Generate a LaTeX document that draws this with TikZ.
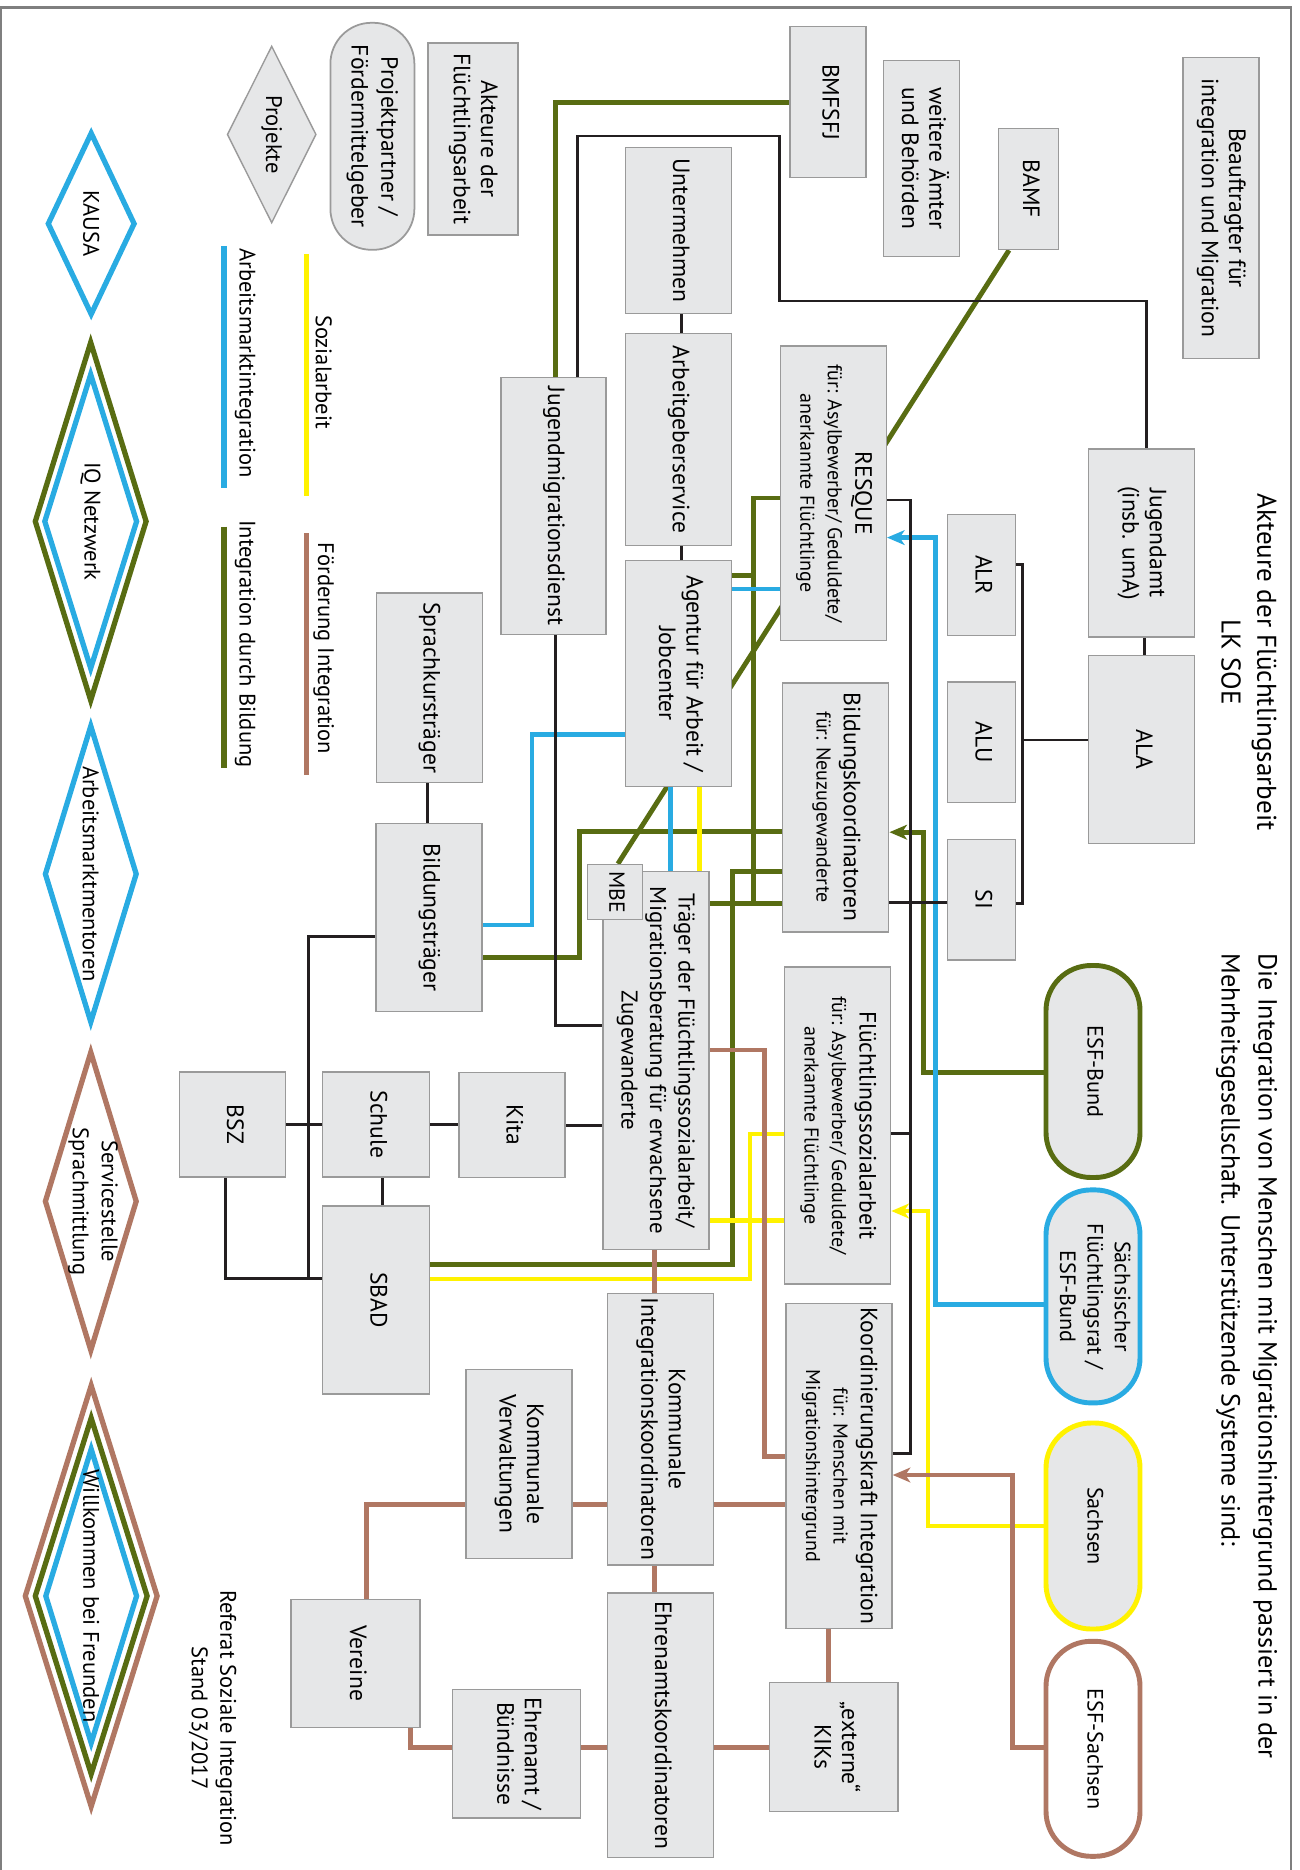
\documentclass[tikz,border=0pt]{standalone}
\usepackage{graphicx}
\usepackage{fontspec}
\setmainfont{PT Sans}
\usetikzlibrary{shapes.geometric,arrows.meta,backgrounds}
\definecolor{boxfill}{HTML}{E6E7E8}
\definecolor{boxline}{HTML}{9A9A9A}
\definecolor{framegray}{HTML}{7F7F7F}
\definecolor{lgreen}{HTML}{586C12}
\definecolor{lblue}{HTML}{29ABE2}
\definecolor{lyellow}{HTML}{FFF200}
\definecolor{lbrown}{HTML}{B07763}
\definecolor{lblack}{HTML}{231F20}
\newcommand{\vt}[1]{\rotatebox{-90}{\begin{tabular}{@{}c@{}}#1\end{tabular}}}
\newcommand{\subf}{\fontsize{5.7}{7.7}\selectfont}
\begin{document}
\begin{tikzpicture}[x=0.01cm, y=-0.01cm,
    sz/.style 2 args={minimum width=#1*0.01cm, minimum height=#2*0.01cm},
    box/.style={rectangle, draw=boxline, fill=boxfill, line width=0.4pt, inner sep=0pt, font=\fontsize{6.7}{7.8}\selectfont},
    capsule/.style={box, rounded corners=0.45cm, line width=1.4pt, font=\fontsize{6.3}{7.8}\selectfont},
    rhomb/.style={diamond, aspect=0.5, inner sep=0pt, line width=1.5pt},
    txt/.style={rotate=-90, align=center, inner sep=0pt, font=\fontsize{6.4}{8.2}\selectfont},
    blk/.style={draw=lblack, line width=0.85pt},
    grn/.style={draw=lgreen, line width=1.4pt},
    blu/.style={draw=lblue, line width=1.4pt},
    yel/.style={draw=lyellow, line width=1.4pt},
    brn/.style={draw=lbrown, line width=1.4pt},
    tip/.style={-{Stealth[length=5pt, width=4.2pt, inset=1.4pt]}}
]
\useasboundingbox (0,0) rectangle (1299,1870);

\node[txt, font=\fontsize{7.7}{10.2}\selectfont] (title) at (1249,662) {Akteure der Flüchtlingsarbeit\\LK SOE};
\node[txt, anchor=west, align=left, font=\fontsize{7.45}{10.5}\selectfont] (subtitle) at (1246.6,953) {Die Integration von Menschen mit Migrationshintergrund passiert in der\\Mehrheitsgesellschaft. Unterstützende Systeme sind:};

\node[box, sz={76}{301}] (beauf) at (1221,208) {\vt{Beauftragter für\\integration und Migration}};
\node[box, sz={60}{121}] (bamf) at (1028.5,189) {\vt{BAMF}};
\node[box, sz={76}{196}] (weitere) at (921.5,158.5) {\vt{weitere Ämter\\und Behörden}};
\node[box, sz={76}{151}] (bmfsfj) at (828,102.2) {\vt{BMFSFJ}};
\node[box, sz={90}{192}] (akteure) at (473,139) {\vt{Akteure der\\Flüchtlingsarbeit}};
\node[capsule, line width=0.5pt, rounded corners=0.41cm, font=\fontsize{6.7}{8.4}\selectfont, sz={84}{227}] (partner) at (372.4,136.3) {\vt{Projektpartner /\\Fördermittelgeber}};
\node[rhomb, draw=boxline, fill=boxfill, line width=0.4pt, sz={89}{177}] (projekte) at (271.7,134.5) {};

\node[box, sz={106}{166}] (untern) at (678.5,230.5) {\vt{Untermehmen}};
\node[box, sz={106}{212}] (arbs) at (678.3,439.4) {\vt{Arbeitgeberservice}};
\node[box, sz={106}{226.5}] (agentur) at (678.3,673.5) {\vt{Agentur für Arbeit /\\Jobcenter}};
\node[box, sz={105}{257}] (jmd) at (553.5,506) {\vt{Jugendmigrationsdienst}};
\node[box, sz={106}{189.5}] (sprach) at (429.2,687.7) {\vt{Sprachkursträger}};
\node[box, sz={106}{188}] (bildt) at (429,917.5) {\vt{Bildungsträger}};
\node[box, sz={106}{294.5}] (resque) at (833.3,493.1) {\vt{RESQUE\\\subf für: Asylbewerber/ Geduldete/\\\subf anerkannte Flüchtlinge}};
\node[box, sz={106}{249}] (bk) at (835.7,807.4) {\vt{Bildungskoordinatoren\\\subf für: Neuzugewanderte}};
\node[box, sz={106}{188}] (jugendamt) at (1141.7,543) {\vt{Jugendamt\\(insb. umA)}};
\node[box, sz={106}{188}] (ala) at (1141.7,749.7) {\vt{ALA}};
\node[box, sz={68}{120.6}] (alr) at (981.2,575) {\vt{ALR}};
\node[box, sz={68}{120.6}] (alu) at (981.2,742.3) {\vt{ALU}};
\node[box, sz={68}{120.6}] (si) at (981.2,899.6) {\vt{SI}};
\node[box, sz={106}{377.6}, font=\fontsize{6.5}{8.1}\selectfont] (traeger) at (655.9,1060.5) {\vt{Träger der Flüchtlingssozialarbeit/\\Migrationsberatung für erwachsene\\Zugewanderte}};
\node[box, sz={55}{55}, font=\fontsize{6.2}{7.5}\selectfont] (mbe) at (614.7,892) {\vt{MBE}};
\node[box, sz={106}{317}] (fsa) at (837.6,1125.3) {\vt{Flüchtlingssozialarbeit\\\subf für: Asylbewerber/ Geduldete/\\\subf anerkannte Flüchtlinge}};
\node[box, sz={106}{325}] (kk) at (839,1465.9) {\vt{Koordinierungskraft Integration\\\subf für: Menschen mit\\\subf Migrationshintergrund}};
\node[box, sz={106}{105}] (kita) at (512,1125) {\vt{Kita}};
\node[box, sz={106.6}{105}] (schule) at (376,1124.4) {\vt{Schule}};
\node[box, sz={106}{105}] (bsz) at (232.5,1124.4) {\vt{BSZ}};
\node[box, sz={106.6}{188}] (sbad) at (376,1300) {\vt{SBAD}};
\node[box, sz={106}{271.6}] (kik) at (660.6,1429) {\vt{Kommunale\\Integrationskoordinatoren}};
\node[box, sz={106}{189}] (kv) at (518.9,1463.8) {\vt{Kommunale\\Verwaltungen}};
\node[box, sz={106}{264.5}] (ehk) at (660.6,1725.3) {\vt{Ehrenamtskoordinatoren}};
\node[box, sz={129}{128}] (vereine) at (355.5,1663.5) {\vt{Vereine}};
\node[box, sz={128}{128.7}] (ehrenamt) at (516.6,1753.7) {\vt{Ehrenamt /\\Bündnisse}};
\node[box, sz={128.6}{128.6}] (kiks) at (833.8,1747) {\vt{„externe“\\KIKs}};

\node[capsule, draw=lgreen, sz={94}{212}] (esfbund) at (1093,1071.5) {\vt{ESF-Bund}};
\node[capsule, draw=lblue, sz={94}{213}] (sfr) at (1093,1296.4) {\vt{Sächsischer\\Flüchtlingsrat /\\ESF-Bund}};
\node[capsule, draw=lyellow, sz={94}{206}] (sachsen) at (1093,1526) {\vt{Sachsen}};
\node[capsule, draw=lbrown, fill=white, sz={94}{215}] (esfsachsen) at (1093,1748.8) {\vt{ESF-Sachsen}};

\node[rhomb, draw=lblue, sz={88}{183}] (kausa) at (91.2,223.7) {};
\node[rhomb, draw=lgreen, sz={113}{360}] (iqa) at (90.7,521.4) {};
\node[rhomb, draw=lblue, sz={94}{296}] (iqb) at (iqa) {};
\node[rhomb, draw=lblue, sz={93}{298}] (amm) at (90.8,874) {};
\node[rhomb, draw=lbrown, sz={93}{300}] (service) at (90.8,1201.3) {};
\node[rhomb, draw=lbrown, sz={134}{423}] (wka) at (91.2,1596) {};
\node[rhomb, draw=lgreen, sz={114}{358}] (wkb) at (wka) {};
\node[rhomb, draw=lblue, sz={93}{296}] (wkc) at (wka) {};

\node[txt] (projektet) at (projekte) {Projekte};
\node[txt] (kausat) at (kausa) {KAUSA};
\node[txt] (iqt) at (iqa) {IQ Netzwerk};
\node[txt] (ammt) at (amm) {Arbeitsmarktmentoren};
\node[txt] (servicet) at (93,1201.3) {Servicestelle\\Sprachmittlung};
\node[txt] (wkt) at (wka) {Willkommen bei Freunden};
\node[txt] (sozial) at (323.7,372) {Sozialarbeit};
\node[txt] (foerder) at (323.7,648.5) {Förderung Integration};
\node[txt] (amint) at (245.2,363) {Arbeitsmarktintegration};
\node[txt] (bildung) at (245.2,644) {Integration durch Bildung};
\node[txt, font=\fontsize{6.4}{8.1}\selectfont] (referat) at (212.5,1718) {Referat Soziale Integration\\Stand 03/2017};

\draw[yel, line width=1.55pt] (306.5,254) -- (306.5,496);
\draw[brn, line width=1.55pt] (306.5,533) -- (306.5,774.5);
\draw[blu, line width=1.55pt] (223.8,246) -- (223.8,487.6);
\draw[grn, line width=1.55pt] (223.8,526.7) -- (223.8,767.6);

\begin{pgfonlayer}{background}
\draw[framegray, line width=0.6pt] (1,1870) -- (1,7.5) -- (1291,7.5) -- (1291,1870);

\draw[grn] (1009,0 |- bamf.south) -- (617.9,0 |- mbe.north);
\draw[grn] (555.5,0 |- jmd.north) |- (bmfsfj.west);
\draw[grn] (resque.west |- 0,498) -| (753.7,903.4);
\draw[grn] (agentur.east |- 0,575.2) -- (753.7,575.2);
\draw[grn] (traeger.east |- 0,903.4) -- (bk.west |- 0,903.4);
\draw[grn] (bk.west |- 0,831.4) -| (579.5,957.7) -- (bildt.east |- 0,957.7);
\draw[grn] (bk.west |- 0,871.7) -| (732.1,1264.3) -- (sbad.east |- 0,1264.3);
\draw[grn, tip] (esfbund.west |- 0,1072.7) -| (923.2,832.2) -- (bk.east |- 0,832.2);

\draw[blu] (agentur.west |- 0,734.5) -| (532,925) -- (bildt.east |- 0,925);
\draw[blu] (agentur.east |- 0,589) -- (resque.west |- 0,589);
\draw[blu] (670.3,0 |- agentur.south) -- (670.3,0 |- traeger.north);
\draw[blu, tip] (sfr.west |- 0,1304.8) -| (935.7,537.6) -- (resque.east |- 0,537.6);

\draw[yel] (699.3,0 |- agentur.south) -- (699.3,0 |- traeger.north);
\draw[yel] (fsa.west |- 0,1134) -| (750,1279) -- (sbad.east |- 0,1279);
\draw[yel] (traeger.east |- 0,1220.7) -- (fsa.west |- 0,1220.7);
\draw[yel, tip] (sachsen.west) -| (928,1211) -- (fsa.east |- 0,1211);

\draw[brn] (traeger.east |- 0,1050) -| (764.3,1456.8) -- (kk.west |- 0,1456.8);
\draw[brn] (654.6,0 |- traeger.south) -- (654.6,0 |- kik.north);
\draw[brn] (kv.east |- 0,1504.6) -- (kik.west |- 0,1504.6);
\draw[brn] (kik.east |- 0,1504.6) -- (kk.west |- 0,1504.6);
\draw[brn] (kv.west |- 0,1504.6) -| (366.8,0 |- vereine.north);
\draw[brn] (654.8,0 |- kik.south) -- (654.8,0 |- ehk.north);
\draw[brn] (828.5,0 |- kk.south) -- (828.5,0 |- kiks.north);
\draw[brn] (ehk.east |- 0,1747.6) -- (kiks.west |- 0,1747.6);
\draw[brn] (ehrenamt.east |- 0,1747.6) -- (ehk.west |- 0,1747.6);
\draw[brn] (410.2,0 |- vereine.south) |- (ehrenamt.west |- 0,1747.6);
\draw[brn, tip] (esfsachsen.west |- 0,1747.3) -| (1012.5,1475) -- (kk.east |- 0,1475);

\draw[blk] (681,0 |- untern.south) -- (681,0 |- arbs.north);
\draw[blk] (681.3,0 |- arbs.south) -- (681.3,0 |- agentur.north);
\draw[blk] (577.3,0 |- jmd.north) |- (779.3,136) -- (779.3,301) -| (1146,0 |- jugendamt.north);
\draw[blk] (1144.3,0 |- jugendamt.south) -- (1144.3,0 |- ala.north);
\draw[blk] (ala.west |- 0,740) -- (1022,740);
\draw[blk] (alr.east |- 0,564.5) -| (1022,903.3) -- (si.east |- 0,903.3);
\draw[blk] (resque.east |- 0,500) -| (910.3,1453.5) -- (kk.east |- 0,1453.5);
\draw[blk] (bk.east |- 0,902.2) -- (si.west |- 0,902.2);
\draw[blk] (fsa.east |- 0,1133.3) -- (910.3,1133.3);
\draw[blk] (555.3,0 |- jmd.south) |- (traeger.west |- 0,1025);
\draw[blk] (kita.east) -- (kita.east -| traeger.west);
\draw[blk] (schule.east) -- (schule.east -| kita.west);
\draw[blk] (bsz.east) -- (bsz.east -| schule.west);
\draw[blk] (427,0 |- sprach.south) -- (427,0 |- bildt.north);
\draw[blk] (bildt.west |- 0,936.1) -| (308.3,1278.9);
\draw[blk] (225.7,0 |- bsz.south) |- (sbad.west |- 0,1278.9);
\draw[blk] (382.3,0 |- schule.south) -- (382.3,0 |- sbad.north);
\end{pgfonlayer}
\end{tikzpicture}
\end{document}
